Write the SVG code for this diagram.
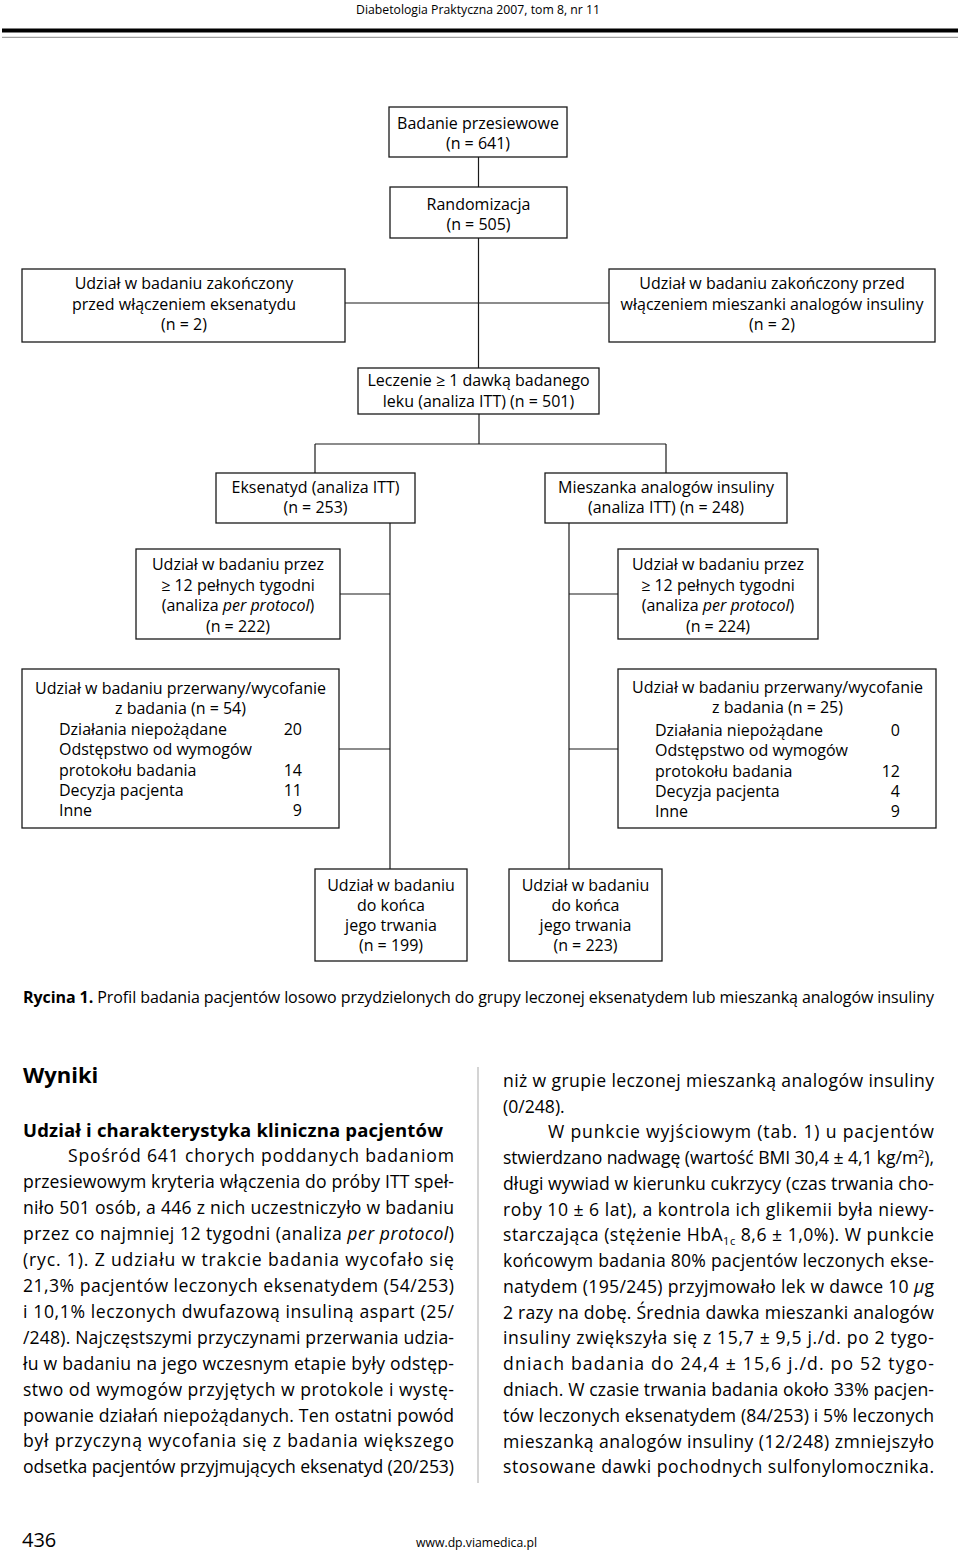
<svg xmlns="http://www.w3.org/2000/svg" width="960" height="1551" viewBox="0 0 960 1551">
<style>
.bx{fill:#fff;stroke:#1a1a1a;stroke-width:1.3}
.t{font-family:"Open Sans","Noto Sans","DejaVu Sans",sans-serif;font-size:16px;fill:#000;text-anchor:middle}
.l{font-family:"Open Sans","Noto Sans","DejaVu Sans",sans-serif;font-size:16px;fill:#000}
.n{font-family:"Open Sans","Noto Sans","DejaVu Sans",sans-serif;font-size:16px;fill:#000;text-anchor:end}
.c line{stroke:#1a1a1a;stroke-width:1.2}
.p{font-family:"Open Sans","Noto Sans","DejaVu Sans",sans-serif;font-size:17.6px;fill:#000}
.h{font-family:"Open Sans","Noto Sans","DejaVu Sans",sans-serif;font-weight:bold;fill:#000}
.i{font-style:italic}
</style>
<rect width="960" height="1551" fill="#fff"/>
<!-- header -->
<text x="356" y="13.5" class="l" style="font-size:12.5px" textLength="244" lengthAdjust="spacingAndGlyphs">Diabetologia Praktyczna 2007, tom 8, nr 11</text>
<rect x="2" y="28.5" width="956" height="4" fill="#000"/>
<rect x="2" y="36.8" width="956" height="1" fill="#888"/>

<g class="c" id="connectors">
<line x1="478.5" y1="157" x2="478.5" y2="187"/>
<line x1="478.5" y1="238" x2="478.5" y2="368"/>
<line x1="345" y1="303" x2="609" y2="303"/>
<line x1="479" y1="414" x2="479" y2="444"/>
<line x1="315" y1="444" x2="666" y2="444"/>
<line x1="315" y1="444" x2="315" y2="473"/>
<line x1="666" y1="444" x2="666" y2="473"/>
<line x1="390" y1="523" x2="390" y2="869"/>
<line x1="569" y1="523" x2="569" y2="869"/>
<line x1="340" y1="594" x2="390" y2="594"/>
<line x1="569" y1="594" x2="618" y2="594"/>
<line x1="339" y1="749" x2="390" y2="749"/>
<line x1="569" y1="749" x2="618" y2="749"/>
</g>

<g id="screening">
<rect class="bx" x="389" y="107" width="178" height="50"/>
<text class="t" x="478" y="129">Badanie przesiewowe</text>
<text class="t" x="478" y="149">(n = 641)</text>
</g>
<g id="randomization">
<rect class="bx" x="390" y="187" width="177" height="51"/>
<text class="t" x="478.5" y="209.5">Randomizacja</text>
<text class="t" x="478.5" y="229.5">(n = 505)</text>
</g>
<g id="ended-exenatide">
<rect class="bx" x="22" y="269" width="323" height="73"/>
<text class="t" x="184" y="289">Udział w badaniu zakończony</text>
<text class="t" x="184" y="309.5">przed włączeniem eksenatydu</text>
<text class="t" x="184" y="330">(n = 2)</text>
</g>
<g id="ended-insulin">
<rect class="bx" x="609" y="269" width="326" height="73"/>
<text class="t" x="772" y="289">Udział w badaniu zakończony przed</text>
<text class="t" x="772" y="309.5">włączeniem mieszanki analogów insuliny</text>
<text class="t" x="772" y="330">(n = 2)</text>
</g>
<g id="treated">
<rect class="bx" x="358" y="368" width="241" height="46"/>
<text class="t" x="478.5" y="386">Leczenie ≥ 1 dawką badanego</text>
<text class="t" x="478.5" y="406.5">leku (analiza ITT) (n = 501)</text>
</g>
<g id="exenatide">
<rect class="bx" x="216" y="473" width="199" height="50"/>
<text class="t" x="315.5" y="493">Eksenatyd (analiza ITT)</text>
<text class="t" x="315.5" y="513">(n = 253)</text>
</g>
<g id="insulin">
<rect class="bx" x="545" y="473" width="242" height="50"/>
<text class="t" x="666" y="493">Mieszanka analogów insuliny</text>
<text class="t" x="666" y="513">(analiza ITT) (n = 248)</text>
</g>
<g id="pp-exenatide">
<rect class="bx" x="136" y="549" width="204" height="90"/>
<text class="t" x="238" y="570">Udział w badaniu przez</text>
<text class="t" x="238" y="590.5">≥ 12 pełnych tygodni</text>
<text class="t" x="238" y="611">(analiza <tspan class="i">per protocol</tspan>)</text>
<text class="t" x="238" y="631.5">(n = 222)</text>
</g>
<g id="pp-insulin">
<rect class="bx" x="618" y="549" width="200" height="90"/>
<text class="t" x="718" y="570">Udział w badaniu przez</text>
<text class="t" x="718" y="590.5">≥ 12 pełnych tygodni</text>
<text class="t" x="718" y="611">(analiza <tspan class="i">per protocol</tspan>)</text>
<text class="t" x="718" y="631.5">(n = 224)</text>
</g>
<g id="withdrawn-exenatide">
<rect class="bx" x="22" y="669" width="317" height="159"/>
<text class="t" x="180.5" y="694">Udział w badaniu przerwany/wycofanie</text>
<text class="t" x="180.5" y="714">z badania (n = 54)</text>
<text class="l" x="59" y="735">Działania niepożądane</text><text class="n" x="302" y="735">20</text>
<text class="l" x="59" y="755">Odstępstwo od wymogów</text>
<text class="l" x="59" y="775.5">protokołu badania</text><text class="n" x="302" y="775.5">14</text>
<text class="l" x="59" y="796">Decyzja pacjenta</text><text class="n" x="302" y="796">11</text>
<text class="l" x="59" y="816">Inne</text><text class="n" x="302" y="816">9</text>
</g>
<g id="withdrawn-insulin">
<rect class="bx" x="618" y="669" width="318" height="159"/>
<text class="t" x="777.5" y="693">Udział w badaniu przerwany/wycofanie</text>
<text class="t" x="777.5" y="713">z badania (n = 25)</text>
<text class="l" x="655" y="736">Działania niepożądane</text><text class="n" x="900" y="736">0</text>
<text class="l" x="655" y="756">Odstępstwo od wymogów</text>
<text class="l" x="655" y="776.5">protokołu badania</text><text class="n" x="900" y="776.5">12</text>
<text class="l" x="655" y="797">Decyzja pacjenta</text><text class="n" x="900" y="797">4</text>
<text class="l" x="655" y="817">Inne</text><text class="n" x="900" y="817">9</text>
</g>
<g id="completed-exenatide">
<rect class="bx" x="315" y="869" width="152" height="92"/>
<text class="t" x="391" y="891">Udział w badaniu</text>
<text class="t" x="391" y="911">do końca</text>
<text class="t" x="391" y="931">jego trwania</text>
<text class="t" x="391" y="951">(n = 199)</text>
</g>
<g id="completed-insulin">
<rect class="bx" x="509" y="869" width="153" height="92"/>
<text class="t" x="585.5" y="891">Udział w badaniu</text>
<text class="t" x="585.5" y="911">do końca</text>
<text class="t" x="585.5" y="931">jego trwania</text>
<text class="t" x="585.5" y="951">(n = 223)</text>
</g>

<!-- caption -->
<text class="l" x="23" y="1003" style="font-size:16px" textLength="911" lengthAdjust="spacing"><tspan font-weight="bold">Rycina 1.</tspan> Profil badania pacjentów losowo przydzielonych do grupy leczonej eksenatydem lub mieszanką analogów insuliny</text>

<!-- column divider -->
<rect x="477.5" y="1067" width="1" height="416" fill="#aaa"/>

<!-- left column -->
<text class="h" x="23" y="1083" style="font-size:22px">Wyniki</text>
<text class="h" x="23" y="1137" style="font-size:18.5px" textLength="420" lengthAdjust="spacing">Udział i charakterystyka kliniczna pacjentów</text>
<g class="p">
<text x="68" y="1162.3" textLength="386" lengthAdjust="spacing">Spośród 641 chorych poddanych badaniom</text>
<text x="23" y="1188.2" textLength="431" lengthAdjust="spacing">przesiewowym kryteria włączenia do próby ITT speł-</text>
<text x="23" y="1214.1" textLength="431" lengthAdjust="spacing">niło 501 osób, a 446 z nich uczestniczyło w badaniu</text>
<text x="23" y="1240.1" textLength="431" lengthAdjust="spacing">przez co najmniej 12 tygodni (analiza <tspan class="i">per protocol</tspan>)</text>
<text x="23" y="1266.0" textLength="431" lengthAdjust="spacing">(ryc. 1). Z udziału w trakcie badania wycofało się</text>
<text x="23" y="1291.9" textLength="431" lengthAdjust="spacing">21,3% pacjentów leczonych eksenatydem (54/253)</text>
<text x="23" y="1317.8" textLength="431" lengthAdjust="spacing">i 10,1% leczonych dwufazową insuliną aspart (25/</text>
<text x="23" y="1343.7" textLength="431" lengthAdjust="spacing">/248). Najczęstszymi przyczynami przerwania udzia-</text>
<text x="23" y="1369.7" textLength="431" lengthAdjust="spacing">łu w badaniu na jego wczesnym etapie były odstęp-</text>
<text x="23" y="1395.6" textLength="431" lengthAdjust="spacing">stwo od wymogów przyjętych w protokole i wystę-</text>
<text x="23" y="1421.5" textLength="431" lengthAdjust="spacing">powanie działań niepożądanych. Ten ostatni powód</text>
<text x="23" y="1447.4" textLength="431" lengthAdjust="spacing">był przyczyną wycofania się z badania większego</text>
<text x="23" y="1473.3" textLength="431" lengthAdjust="spacing">odsetka pacjentów przyjmujących eksenatyd (20/253)</text>
</g>

<!-- right column -->
<g class="p">
<text x="503" y="1086.7" textLength="431" lengthAdjust="spacing">niż w grupie leczonej mieszanką analogów insuliny</text>
<text x="503" y="1112.5">(0/248).</text>
<text x="548" y="1138.2" textLength="386" lengthAdjust="spacing">W punkcie wyjściowym (tab. 1) u pacjentów</text>
<text x="503" y="1164.0" textLength="431" lengthAdjust="spacing">stwierdzano nadwagę (wartość BMI 30,4 ± 4,1 kg/m<tspan dy="-6" style="font-size:11px">2</tspan><tspan dy="6">),</tspan></text>
<text x="503" y="1189.8" textLength="431" lengthAdjust="spacing">długi wywiad w kierunku cukrzycy (czas trwania cho-</text>
<text x="503" y="1215.6" textLength="431" lengthAdjust="spacing">roby 10 ± 6 lat), a kontrola ich glikemii była niewy-</text>
<text x="503" y="1241.3" textLength="431" lengthAdjust="spacing">starczająca (stężenie HbA<tspan dy="4" style="font-size:11px">1c</tspan><tspan dy="-4"> 8,6 ± 1,0%). W punkcie</tspan></text>
<text x="503" y="1267.1" textLength="431" lengthAdjust="spacing">końcowym badania 80% pacjentów leczonych ekse-</text>
<text x="503" y="1292.9" textLength="431" lengthAdjust="spacing">natydem (195/245) przyjmowało lek w dawce 10 <tspan class="i">µ</tspan>g</text>
<text x="503" y="1318.6" textLength="431" lengthAdjust="spacing">2 razy na dobę. Średnia dawka mieszanki analogów</text>
<text x="503" y="1344.4" textLength="431" lengthAdjust="spacing">insuliny zwiększyła się z 15,7 ± 9,5 j./d. po 2 tygo-</text>
<text x="503" y="1370.2" textLength="431" lengthAdjust="spacing">dniach badania do 24,4 ± 15,6 j./d. po 52 tygo-</text>
<text x="503" y="1396.0" textLength="431" lengthAdjust="spacing">dniach. W czasie trwania badania około 33% pacjen-</text>
<text x="503" y="1421.7" textLength="431" lengthAdjust="spacing">tów leczonych eksenatydem (84/253) i 5% leczonych</text>
<text x="503" y="1447.5" textLength="431" lengthAdjust="spacing">mieszanką analogów insuliny (12/248) zmniejszyło</text>
<text x="503" y="1473.3" textLength="431" lengthAdjust="spacing">stosowane dawki pochodnych sulfonylomocznika.</text>
</g>

<!-- footer -->
<text class="l" x="22" y="1547" style="font-size:20px">436</text>
<text class="l" x="416" y="1547" style="font-size:12.5px" textLength="121" lengthAdjust="spacingAndGlyphs">www.dp.viamedica.pl</text>
</svg>
